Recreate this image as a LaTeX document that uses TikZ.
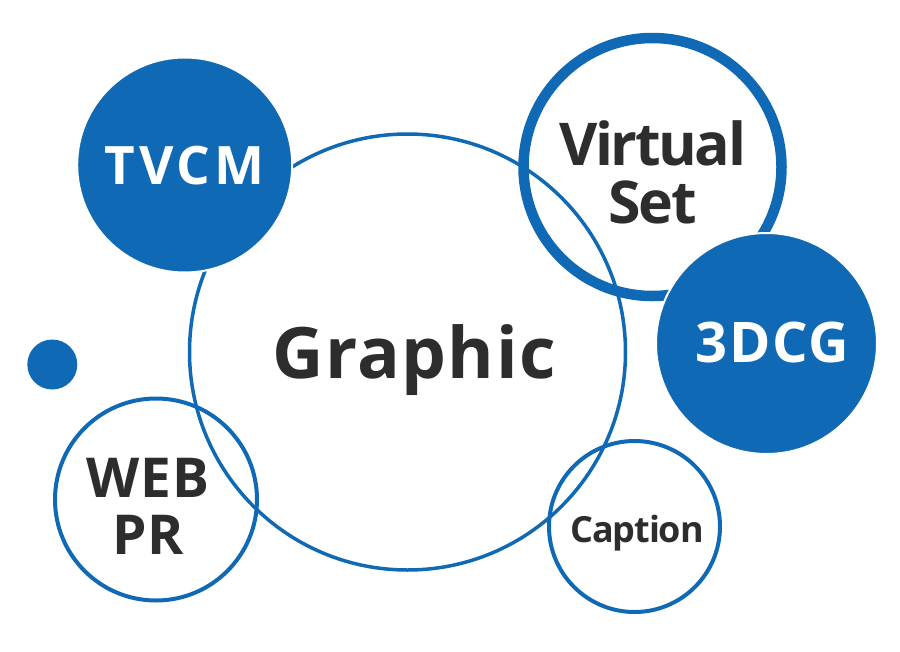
\documentclass[tikz,border=0pt]{standalone}
\usepackage{fontspec}
\setmainfont{Open Sans}
\usepackage{tikz}

\begin{document}
\begin{tikzpicture}[x=1pt,y=-1pt,
    ring/.style={circle, draw=custcol_blue, inner sep=0pt, outer sep=0pt},
    disc/.style={circle, fill=custcol_blue, draw=white, line width=2pt, inner sep=0pt, outer sep=0pt},
    word/.style={inner sep=0, outer sep=0, anchor=base, align=center, custcol_text}]
\definecolor{custcol_blue}{RGB}{16, 105, 180}
\definecolor{custcol_text}{RGB}{45, 45, 45}
\useasboundingbox (0,0) rectangle (900,651);
% outline circles
\node[ring, line width=3.5pt, minimum size=436pt] (graphic) at (407.5,352.0) {};
\node[ring, line width=4.0pt, minimum size=202pt] (webpr) at (156.0,499.5) {};
\node[ring, line width=4.0pt, minimum size=171pt] (caption) at (634.5,526.5) {};
\node[ring, line width=10.5pt, minimum size=258pt] (virtualset) at (652.5,167.0) {};
% filled circles
\node[disc, minimum size=215pt] (tvcm) at (184.7,165.0) {};
\node[disc, minimum size=221pt] (threedcg) at (766.5,343.5) {};
\node[disc, draw=none, minimum size=50pt] (dot) at (52.3,364.5) {};
% labels (base = last line)
\node[word, font={\fontsize{71pt}{71pt}\bfseries\addfontfeature{LetterSpace=2}}] (graphiclabel) at (414.0,378.0) {Graphic};
\node[word, font={\fontsize{53pt}{53pt}\bfseries\addfontfeature{LetterSpace=7}}, white] (tvcmlabel) at (184.5,184.0) {TVCM};
\node[word, font={\fontsize{59pt}{58pt}\bfseries\addfontfeature{LetterSpace=-4}}] (virtualsetlabel) at (652.5,223.0) {Virtual\\Set};
\node[word, font={\fontsize{56pt}{56pt}\bfseries\addfontfeature{LetterSpace=3}}, white] (threedcglabel) at (772.3,362.5) {3DCG};
\node[word, font={\fontsize{55pt}{57pt}\bfseries\addfontfeature{LetterSpace=1.5}}] (webprlabel) at (148.0,554.0) {WEB\\PR};
\node[word, font={\fontsize{36pt}{36pt}\bfseries\addfontfeature{LetterSpace=-3}}] (captionlabel) at (637.0,542.0) {Caption};
\end{tikzpicture}
\end{document}
